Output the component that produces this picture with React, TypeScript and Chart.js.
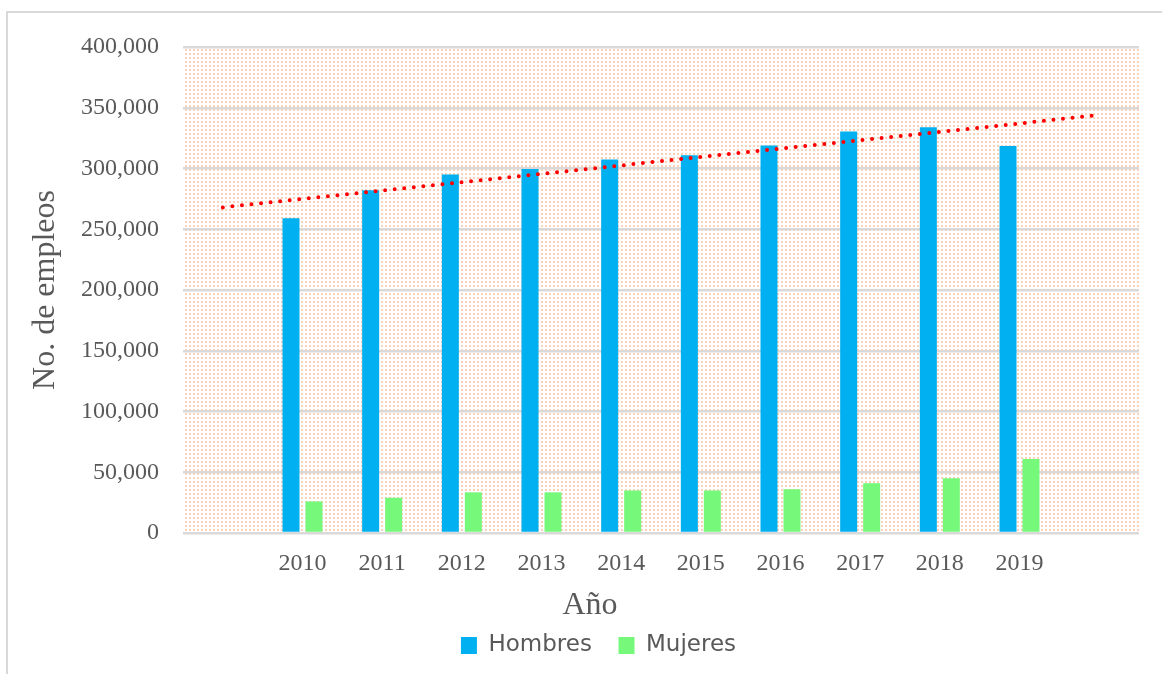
import React, { useEffect, useRef } from "react";
import { Chart, registerables } from "chart.js";

Chart.register(...registerables);

const categories = ["", "2010", "2011", "2012", "2013", "2014", "2015", "2016", "2017", "2018", "2019", ""];
const hombres = [null, 259000, 282000, 295000, 299500, 307500, 311000, 319000, 330500, 334000, 318500, null];
const mujeres = [null, 26000, 29000, 33500, 33500, 35000, 35000, 36000, 41000, 45000, 61000, null];
const tendencia = [268000, null, null, null, null, null, null, null, null, null, null, 344000];
const yTicks = [0, 50000, 100000, 150000, 200000, 250000, 300000, 350000, 400000];
const xTitle = "Año";

const TEXT = "#595959";
const SERIF = "'Liberation Serif', 'Times New Roman', serif";

export default function App() {
  const ref = useRef<HTMLCanvasElement | null>(null);

  useEffect(() => {
    const canvas = ref.current;
    if (!canvas) return;

    const pc = document.createElement("canvas");
    pc.width = 4;
    pc.height = 4;
    const pctx = pc.getContext("2d")!;
    pctx.fillStyle = "rgba(245,155,95,0.45)";
    pctx.fillRect(1, 1, 2, 2);

    const bgPlugin = {
      id: "plotBg",
      beforeDraw(chart: any) {
        const { ctx, chartArea } = chart;
        const pattern = ctx.createPattern(pc, "repeat");
        ctx.save();
        ctx.fillStyle = pattern;
        ctx.fillRect(chartArea.left, chartArea.top, chartArea.right - chartArea.left, chartArea.bottom - chartArea.top);
        ctx.restore();
      },
    };

    const legendShift = {
      id: "legendShift",
      afterLayout(chart: any) {
        if (chart.legend) {
          chart.legend.left += 18;
          chart.legend.right += 18;
        }
      },
    };

    const xTitlePlugin = {
      id: "xTitle",
      afterDraw(chart: any) {
        const { ctx } = chart;
        ctx.save();
        ctx.fillStyle = TEXT;
        ctx.font = `32px ${SERIF}`;
        ctx.textAlign = "center";
        ctx.textBaseline = "alphabetic";
        ctx.fillText(xTitle, 590, 614);
        ctx.restore();
      },
    };

    const chart = new Chart(canvas, {
      type: "bar",
      data: {
        labels: categories,
        datasets: [
          {
            type: "line",
            label: "Tendencia",
            data: tendencia as any,
            borderColor: "#FF0000",
            borderWidth: 4,
            borderCapStyle: "round",
            borderDash: [0, 9.6],
            pointRadius: 0,
            spanGaps: true,
            fill: false,
            order: 0,
          } as any,
          {
            label: "Hombres",
            data: hombres as any,
            backgroundColor: "#00B0F0",
            categoryPercentage: 0.577,
            barPercentage: 0.74,
            order: 1,
          },
          {
            label: "Mujeres",
            data: mujeres as any,
            backgroundColor: "#76F97A",
            categoryPercentage: 0.577,
            barPercentage: 0.74,
            order: 2,
          },
        ],
      },
      options: {
        responsive: false,
        animation: false,
        layout: { padding: { left: 22, top: 47, right: 23, bottom: 7 } },
        plugins: {
          tooltip: { enabled: false },
          legend: {
            position: "bottom",
            labels: {
              filter: (item: any) => item.text !== "Tendencia",
              generateLabels: (chart: any) => {
                const items = Chart.defaults.plugins.legend.labels.generateLabels(chart);
                return items.map((it: any) => (it.text === "Hombres" ? { ...it, text: "Hombres  " } : it));
              },
              boxWidth: 16,
              boxHeight: 17,
              padding: 12,
              color: TEXT,
              font: { family: "'DejaVu Sans', sans-serif", size: 23 },
            },
          },
        },
        scales: {
          x: {
            grid: { display: false, drawTicks: false },
            border: { display: false },
            ticks: { color: TEXT, font: { family: SERIF, size: 24 }, padding: 16, maxRotation: 0, autoSkip: false },
            title: { display: false },
            afterFit(scale: any) {
              scale.height = 89;
            },
          },
          y: {
            min: 0,
            max: 400000,
            afterBuildTicks(scale: any) {
              scale.ticks = yTicks.map((v) => ({ value: v }));
            },
            grid: { color: "#D9D9D9", lineWidth: 2.5, drawTicks: false },
            border: { display: false },
            ticks: {
              color: TEXT,
              font: { family: SERIF, size: 24 },
              padding: 24,
              callback: (v: any) => Number(v).toLocaleString("en-US"),
            },
            title: { display: true, text: "No. de empleos", color: TEXT, font: { family: SERIF, size: 32 }, padding: { top: 4, bottom: 4 } },
            afterFit(scale: any) {
              scale.width = 161;
            },
          },
        },
      },
      plugins: [bgPlugin, legendShift, xTitlePlugin],
    });

    return () => chart.destroy();
  }, []);

  return (
    <div style={{ position: "absolute", left: 0, top: 0, width: 1162, height: 674, background: "#fff" }}>
      <div
        style={{
          position: "absolute",
          left: 6,
          top: 11,
          right: 0,
          bottom: 0,
          borderTop: "2px solid #D9D9D9",
          borderLeft: "2px solid #D9D9D9",
        }}
      />
      <canvas ref={ref} width={1162} height={674} style={{ position: "absolute", left: 0, top: 0 }} />
    </div>
  );
}
